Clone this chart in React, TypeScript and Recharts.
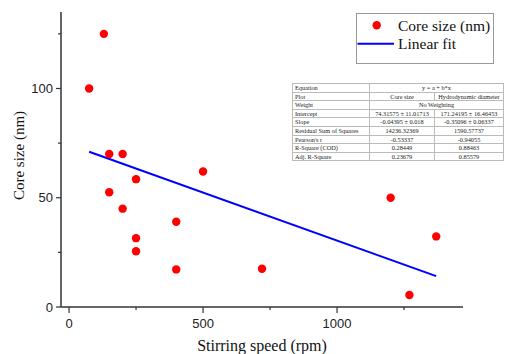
import React from 'react';
import { ScatterChart, Scatter, XAxis, YAxis, Label } from 'recharts';

// stirring speed (rpm) vs core size (nm)
const speed = [75, 130, 150, 150, 200, 200, 250, 250, 250, 400, 400, 500, 720, 1200, 1270, 1370];
const coreSize = [100, 125, 70, 52.5, 70, 45, 58.5, 31.5, 25.5, 39, 17.2, 62, 17.5, 50, 5.5, 32.3];

// fit range and coefficients (from the fit table)
const fitRange = [75, 1370];
const intercept = 74.31575;
const slope = -0.04395;

const xTicks = [0, 250, 500, 750, 1000, 1250];
const yTicks = [0, 25, 50, 75, 100, 125];

const tableLabels = ['Equation', 'Plot', 'Weight', 'Intercept', 'Slope', 'Residual Sum of Squares', "Pearson's r", 'R-Square (COD)', 'Adj. R-Square'];
const coreCol = ['y = a + b*x', 'Core size', 'No Weighting', '74.31575 ± 11.01713', '-0.04395 ± 0.018', '14236.32369', '-0.53337', '0.28449', '0.23679'];
const hydroCol = ['', 'Hydrodynamic diameter', '', '171.24195 ± 16.46453', '-0.35096 ± 0.06337', '1590.57737', '-0.94055', '0.88463', '0.85579'];

const points = speed.map((s, i) => ({ x: s, y: coreSize[i] }));
const fitData = fitRange.map((s) => ({ x: s, y: intercept + slope * s }));

const AXIS = '#333';
const SANS = '"Liberation Sans", Arial, sans-serif';
const SERIF = '"Liberation Serif", "Times New Roman", serif';

const sansText: React.CSSProperties = { fontFamily: SANS, fontSize: 13 };
const serifText = (size: number): React.CSSProperties => ({ fontFamily: SERIF, fontSize: size });

const X_TS = 6;
const X_TM = 6;
const Y_TS = 5;
const Y_TM = 3;

const XTick = (props: any) => {
  const { x, y, payload } = props;
  const axisY = y - X_TS - X_TM;
  const major = payload.value % 500 === 0;
  return (
    <g>
      <line x1={x} x2={x} y1={axisY} y2={axisY + (major ? 6 : 3)} stroke={AXIS} strokeWidth={1.2} />
      {major && (
        <text x={x} y={y} dy="0.71em" textAnchor="middle" style={sansText} fill="#222">
          {payload.value}
        </text>
      )}
    </g>
  );
};

const YTick = (props: any) => {
  const { x, y, payload } = props;
  const axisX = x + Y_TS + Y_TM;
  const major = payload.value % 50 === 0;
  return (
    <g>
      <line x1={axisX} x2={axisX - (major ? 5 : 3)} y1={y} y2={y} stroke={AXIS} strokeWidth={1.2} />
      {major && (
        <text x={x} y={y} dy="0.355em" textAnchor="end" style={sansText} fill="#222">
          {payload.value}
        </text>
      )}
    </g>
  );
};

const Dot = (props: any) => <circle cx={props.cx} cy={props.cy} r={4.2} fill="#ff0000" />;

const cell: React.CSSProperties = {
  border: '1px solid #bbb',
  padding: '0 2px',
  height: '7.6px',
  lineHeight: '7.6px',
  whiteSpace: 'nowrap',
  overflow: 'hidden',
  textAlign: 'center',
};

export default function App() {
  return (
    <div style={{ position: 'absolute', left: 0, top: 0, width: 506, height: 354, background: '#fff', overflow: 'hidden' }}>
      <ScatterChart width={506} height={354} margin={{ top: 12, right: 43, bottom: 0, left: 0 }}>
        <XAxis
          type="number"
          dataKey="x"
          domain={[-30, 1470]}
          ticks={xTicks}
          interval={0}
          height={47}
          allowDataOverflow
          tickLine={false}
          tickSize={X_TS}
          tickMargin={X_TM}
          axisLine={{ stroke: AXIS, strokeWidth: 1.5 }}
          tick={<XTick />}
        >
          <Label
            content={(p: any) => {
              const vb = p.viewBox;
              return (
                <text x={vb.x + vb.width / 2} y={vb.y + 44} textAnchor="middle" style={serifText(16)} fill="#111">
                  Stirring speed (rpm)
                </text>
              );
            }}
          />
        </XAxis>
        <YAxis
          type="number"
          dataKey="y"
          domain={[0, 135]}
          ticks={yTicks}
          interval={0}
          width={61}
          allowDataOverflow
          tickLine={false}
          tickSize={Y_TS}
          tickMargin={Y_TM}
          axisLine={{ stroke: AXIS, strokeWidth: 1.5 }}
          tick={<YTick />}
        >
          <Label
            content={(p: any) => {
              const vb = p.viewBox;
              const cx = vb.x + 23.5;
              const cy = vb.y + vb.height / 2 - 4;
              return (
                <text x={cx} y={cy} transform={`rotate(-90 ${cx} ${cy})`} textAnchor="middle" style={serifText(15)} fill="#111">
                  Core size (nm)
                </text>
              );
            }}
          />
        </YAxis>
        <Scatter data={fitData} line={{ stroke: '#0000ff', strokeWidth: 2 }} shape={() => <g />} isAnimationActive={false} />
        <Scatter data={points} shape={<Dot />} isAnimationActive={false} />
      </ScatterChart>

      <div style={{ position: 'absolute', left: 356, top: 13, width: 136, height: 49, border: '1px solid #999', background: '#fff' }}>
        <svg width={136} height={49}>
          <circle cx={19.7} cy={11.3} r={4.2} fill="#ff0000" />
          <text x={41} y={16.5} style={serifText(15.5)} fill="#111">Core size (nm)</text>
          <line x1={0.5} x2={37} y1={29.7} y2={29.7} stroke="#0000ff" strokeWidth={2} />
          <text x={41} y={35} style={serifText(15.5)} fill="#111">Linear fit</text>
        </svg>
      </div>

      <table
        style={{
          position: 'absolute',
          left: 292,
          top: 83,
          width: 211,
          borderCollapse: 'collapse',
          tableLayout: 'fixed',
          fontFamily: SERIF,
          fontSize: '6.3px',
          color: '#222',
          background: '#fff',
        }}
      >
        <colgroup>
          <col style={{ width: 77 }} />
          <col style={{ width: 65 }} />
          <col style={{ width: 69 }} />
        </colgroup>
        <tbody>
          {tableLabels.map((lab, i) => (
            <tr key={lab}>
              <td style={{ ...cell, textAlign: 'left' }}>{lab}</td>
              {hydroCol[i] === '' ? (
                <td style={cell} colSpan={2}>{coreCol[i]}</td>
              ) : (
                <>
                  <td style={cell}>{coreCol[i]}</td>
                  <td style={cell}>{hydroCol[i]}</td>
                </>
              )}
            </tr>
          ))}
        </tbody>
      </table>
    </div>
  );
}
